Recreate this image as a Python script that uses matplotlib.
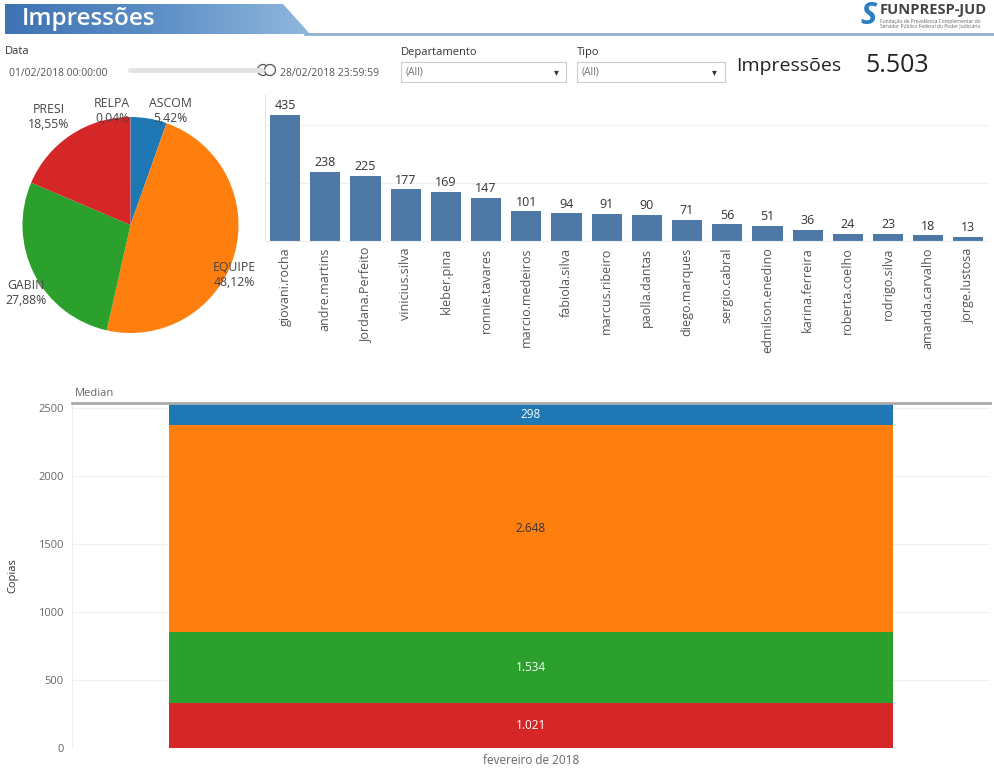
import numpy as np
import matplotlib
matplotlib.use("Agg")
import matplotlib.pyplot as plt
from matplotlib.patches import Polygon, Rectangle, Circle

plt.rcParams['font.family'] = ['Open Sans', 'DejaVu Sans']

# dashboard data
total_impressoes = 5503
departamentos = ["ASCOM", "EQUIPE", "GABIN", "PRESI", "RELPA"]
dept_copias = [298, 2648, 1534, 1021, 2]
dept_colors = ["#1f77b4", "#ff7f0e", "#2ca02c", "#d62728", "#9467bd"]

usuarios = ["giovani.rocha", "andre.martins", "Jordana.Perfeito", "vinicius.silva",
            "kleber.pina", "ronnie.tavares", "marcio.medeiros", "fabiola.silva",
            "marcus.ribeiro", "paolla.dantas", "diego.marques", "sergio.cabral",
            "edmilson.enedino", "karina.ferreira", "roberta.coelho", "rodrigo.silva",
            "amanda.carvalho", "jorge.lustosa"]
usuario_copias = [435, 238, 225, 177, 169, 147, 101, 94, 91, 90, 71, 56, 51, 36, 24, 23, 18, 13]

# stacked median bar (bottom -> top)
stack_depts = ["PRESI", "GABIN", "EQUIPE", "ASCOM"]
stack_median = [334, 521, 1515, 164]
stack_labels = [1021, 1534, 2648, 298]
mes = "fevereiro de 2018"

W, H = 994, 772


def rect(x0, y0, x1, y1):
    # pixel box (top-left origin) -> figure fraction
    return [x0 / W, 1 - y1 / H, (x1 - x0) / W, (y1 - y0) / H]


def fmt(v):
    return f"{v:,}".replace(",", ".")


fig = plt.figure(figsize=(W / 100, H / 100), dpi=100)

# background canvas in pixel coordinates
bg = fig.add_axes([0, 0, 1, 1])
bg.set_xlim(0, W)
bg.set_ylim(H, 0)
bg.axis("off")

# header banner with gradient
banner = Polygon([(5, 4), (283, 4), (310, 34), (5, 34)], closed=True, facecolor="none", edgecolor="none")
bg.add_patch(banner)
grad = np.linspace(0, 1, 256).reshape(1, -1)
cmap = matplotlib.colors.LinearSegmentedColormap.from_list("hdr", ["#3f72b3", "#5d8fc6", "#90b8de"])
im = bg.imshow(grad, extent=[5, 310, 34, 4], cmap=cmap, aspect="auto", zorder=1)
im.set_clip_path(banner)
bg.plot([305, 994], [33.5, 33.5], color="#8fb0cf", lw=2, zorder=1)
bg.text(22, 19, "Impressões", color="white", fontsize=17.5, fontweight="semibold", va="center", ha="left", zorder=2)

# logo
bg.text(868, 16, "S", color="#2a7fc4", fontsize=22, fontweight="bold", fontstyle="italic",
        ha="center", va="center")
bg.text(880, 10, "FUNPRESP-JUD", color="#444444", fontsize=10.5, fontweight="bold", ha="left", va="center")
bg.text(880, 21, "Fundação de Previdência Complementar do", color="#666666", fontsize=3.6, ha="left", va="center")
bg.text(880, 26, "Servidor Público Federal do Poder Judiciário", color="#666666", fontsize=3.6, ha="left", va="center")

# filters
lab_kw = dict(color="#333333", fontsize=8, va="center", ha="left")
bg.text(5, 52, "Data", **lab_kw)
bg.text(9, 73, "01/02/2018 00:00:00", color="#555555", fontsize=7.5, va="center")
bg.plot([130, 262], [70, 70], color="#e2e2e2", lw=3.5, solid_capstyle="round")
bg.add_patch(Circle((263, 70), 5.5, facecolor="white", edgecolor="#555555", lw=0.9))
bg.add_patch(Circle((270, 70), 5.5, facecolor="white", edgecolor="#555555", lw=0.9))
bg.text(280, 73, "28/02/2018 23:59:59", color="#555555", fontsize=7.5, va="center")

bg.text(401, 52, "Departamento", **lab_kw)
bg.add_patch(Rectangle((401, 62), 165, 20, facecolor="white", edgecolor="#cccccc", lw=0.8))
bg.text(406, 72, "(All)", color="#777777", fontsize=7.5, va="center")
bg.text(556, 72, "▾", color="#333333", fontsize=7, va="center", ha="center", family=["DejaVu Sans"])

bg.text(577, 52, "Tipo", **lab_kw)
bg.add_patch(Rectangle((577, 62), 148, 20, facecolor="white", edgecolor="#cccccc", lw=0.8))
bg.text(582, 72, "(All)", color="#777777", fontsize=7.5, va="center")
bg.text(714, 72, "▾", color="#333333", fontsize=7, va="center", ha="center", family=["DejaVu Sans"])

bg.text(736, 66, "Impressões", color="#222222", fontsize=14, va="center")
bg.text(865, 66, fmt(total_impressoes), color="#222222", fontsize=18, va="center")

# pie by department
ax_pie = fig.add_axes(rect(22.5, 117, 238.5, 333))
ax_pie.pie(dept_copias, colors=dept_colors, startangle=90, counterclock=False,
           wedgeprops=dict(linewidth=0))
ax_pie.set_xlim(-1, 1)
ax_pie.set_ylim(-1, 1)
total = sum(dept_copias)
label_pos = {"ASCOM": (0.366, 1.056), "EQUIPE": (0.958, -0.463), "GABIN": (-0.968, -0.63),
             "PRESI": (-0.755, 1.0), "RELPA": (-0.171, 1.056)}
for d, v in zip(departamentos, dept_copias):
    pct = f"{100 * v / total:.2f}%".replace(".", ",")
    lx, ly = label_pos[d]
    ax_pie.text(lx, ly, f"{d}\n{pct}", ha="center", va="center", fontsize=8.8,
                color="#444444", linespacing=1.2)

# bars by user
ax_bar = fig.add_axes(rect(265, 95, 988.5, 240.7))
xs = np.arange(len(usuarios))
ax_bar.bar(xs, usuario_copias, width=0.75, color="#4e79a7", zorder=2)
for x, v in zip(xs, usuario_copias):
    ax_bar.text(x, v + 10, str(v), ha="center", va="bottom", fontsize=9, color="#333333")
ax_bar.set_xlim(-0.5, len(usuarios) - 0.5)
ax_bar.set_ylim(0, 503)
ax_bar.set_yticks([200, 400])
ax_bar.set_yticklabels([])
ax_bar.tick_params(axis="y", length=0)
ax_bar.grid(axis="y", color="#efefef", lw=0.8, zorder=0)
ax_bar.set_xticks(xs)
ax_bar.set_xticklabels(usuarios, rotation=90, fontsize=9, color="#555555")
ax_bar.tick_params(axis="x", length=0, pad=5)
for s in ["top", "right"]:
    ax_bar.spines[s].set_visible(False)
ax_bar.spines["left"].set_color("#e4e4e4")
ax_bar.spines["bottom"].set_color("#eeeeee")

# stacked median bar
ax_st = fig.add_axes(rect(72, 403, 990, 748))
bottom = 0
stack_colors = [dept_colors[departamentos.index(d)] for d in stack_depts]
for d, h, lab, c in zip(stack_depts, stack_median, stack_labels, stack_colors):
    ax_st.bar(0, h, bottom=bottom, width=0.789, color=c, zorder=2)
    tc = "#333333" if d == "EQUIPE" else "white"
    ax_st.text(0, bottom + h / 2, fmt(lab), ha="center", va="center", fontsize=8.5, color=tc, zorder=3)
    bottom += h
ax_st.set_xlim(-0.5, 0.5)
ax_st.set_ylim(0, sum(stack_median))
ax_st.set_yticks(np.arange(0, 2501, 500))
ax_st.tick_params(axis="y", length=0, labelsize=8, labelcolor="#666666", pad=6)
ax_st.set_xticks([0])
ax_st.set_xticklabels([mes], fontsize=8.5, color="#666666")
ax_st.tick_params(axis="x", length=0, pad=4)
ax_st.grid(axis="y", color="#f0f0f0", lw=0.8, zorder=0)
ax_st.set_ylabel("Copias", fontsize=8, color="#333333", labelpad=14)
for s in ["right", "bottom"]:
    ax_st.spines[s].set_visible(False)
ax_st.spines["left"].set_color("#eeeeee")
ax_st.spines["top"].set_color("#aaaaaa")
ax_st.spines["top"].set_linewidth(2)
ax_st.spines["top"].set_zorder(4)
bg.text(75, 393, "Median", color="#666666", fontsize=8, va="center", ha="left")

fig.savefig("out.png", dpi=100)
